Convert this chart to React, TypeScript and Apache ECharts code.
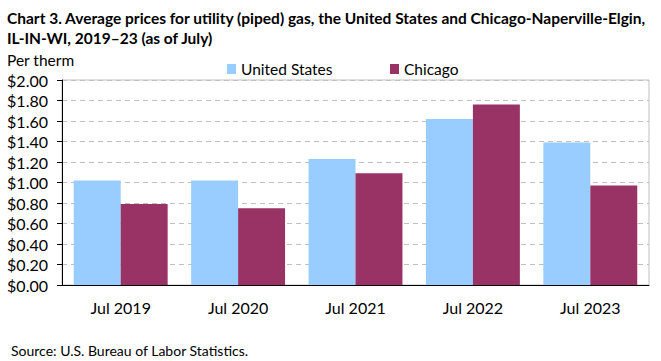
import React, { useEffect, useRef } from "react";
import * as echarts from "echarts";

const categories = ["Jul 2019", "Jul 2020", "Jul 2021", "Jul 2022", "Jul 2023"];
const usValues = [1.02, 1.02, 1.23, 1.62, 1.39];
const chicagoValues = [0.79, 0.75, 1.09, 1.76, 0.97];
const seriesNames = ["United States", "Chicago"];
const titleText =
  "Chart 3. Average prices for utility (piped) gas, the United States and Chicago-Naperville-Elgin,\nIL-IN-WI, 2019–23 (as of July)";
const sourceText = "Source: U.S. Bureau of Labor Statistics.";
const unitText = "Per therm";

const FONT = "Lato, 'Open Sans', sans-serif";

export default function App() {
  const ref = useRef<HTMLDivElement>(null);
  useEffect(() => {
    if (!ref.current) return;
    const chart = echarts.init(ref.current, null, { renderer: "svg" });
    const legendBase = {
      top: 56,
      itemWidth: 9,
      itemHeight: 10,
      icon: "rect",
      itemGap: 0,
      textStyle: { fontFamily: FONT, fontSize: 15.5, color: "#000" },
    };
    chart.setOption({
      animation: false,
      backgroundColor: "#ffffff",
      textStyle: { fontFamily: FONT },
      title: {
        text: titleText,
        left: 2,
        top: 3,
        textStyle: {
          fontFamily: FONT,
          fontSize: 15.5,
          fontWeight: "bold",
          color: "#000",
          lineHeight: 20,
        },
      },
      legend: [
        { ...legendBase, data: [seriesNames[0]], left: 222 },
        { ...legendBase, data: [seriesNames[1]], left: 385 },
      ],
      graphic: [
        {
          type: "text",
          left: 7,
          top: 52,
          style: { text: unitText, font: `15.5px ${FONT}`, fill: "#000" },
        },
        {
          type: "text",
          left: 11,
          top: 343,
          style: { text: sourceText, font: `14px ${FONT}`, fill: "#000" },
        },
      ],
      grid: {
        left: 62,
        right: 12,
        top: 80,
        bottom: 76,
        show: true,
        borderColor: "#bfbfbf",
        borderWidth: 1,
      },
      xAxis: {
        type: "category",
        data: categories,
        axisLine: { lineStyle: { color: "#000", width: 1 } },
        axisTick: { show: false },
        axisLabel: { fontFamily: FONT, fontSize: 16, color: "#000", margin: 14 },
      },
      yAxis: {
        type: "value",
        min: 0,
        max: 2,
        interval: 0.2,
        axisLine: { show: true, lineStyle: { color: "#000", width: 1 } },
        axisTick: { show: true, length: 5, lineStyle: { color: "#000" } },
        axisLabel: {
          fontFamily: FONT,
          fontSize: 16,
          color: "#000",
          margin: 14,
          formatter: (v: number) => "$" + v.toFixed(2),
        },
        splitLine: { show: true, lineStyle: { color: "#bfbfbf", type: [5, 4], width: 1 } },
      },
      series: [
        {
          name: seriesNames[0],
          type: "bar",
          data: usValues,
          itemStyle: { color: "#99ccff" },
          barGap: "0%",
          barCategoryGap: "20%",
        },
        {
          name: seriesNames[1],
          type: "bar",
          data: chicagoValues,
          itemStyle: { color: "#993366" },
          barGap: "0%",
          barCategoryGap: "20%",
        },
      ],
    });
    return () => chart.dispose();
  }, []);
  return <div ref={ref} style={{ width: 661, height: 361, position: "absolute", left: 0, top: 0 }} />;
}
